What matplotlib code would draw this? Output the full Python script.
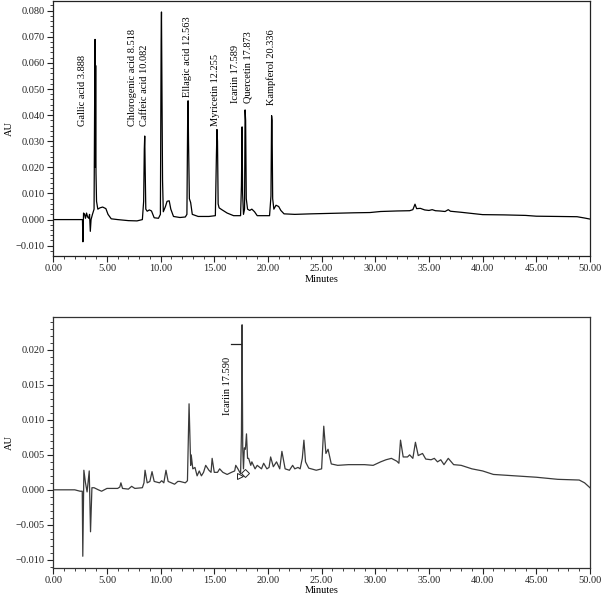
import matplotlib
matplotlib.use("Agg")
import matplotlib.pyplot as plt
from matplotlib.ticker import MultipleLocator, FuncFormatter

# ---------------- data ----------------
# Standard mixture chromatogram (top)
std_time = [0.0, 2.6, 2.72, 2.76, 2.82, 2.92, 3.0, 3.1, 3.2, 3.3, 3.38, 3.45, 3.52, 3.65, 3.8,
            3.86, 3.89, 3.92, 3.95, 3.98, 4.03, 4.15, 4.35, 4.6, 4.9, 5.1, 5.4, 6.0, 7.0, 7.8,
            8.3, 8.42, 8.48, 8.52, 8.56, 8.62, 8.75, 8.95, 9.15, 9.4, 9.8, 9.98, 10.05, 10.08,
            10.12, 10.18, 10.25, 10.45, 10.6, 10.8, 10.95, 11.2, 11.8, 12.3, 12.45, 12.53, 12.56,
            12.6, 12.68, 12.8, 12.95, 13.5, 14.5, 15.1, 15.2, 15.25, 15.3, 15.36, 15.45, 15.7,
            16.2, 16.8, 17.45, 17.53, 17.59, 17.64, 17.72, 17.82, 17.87, 17.92, 17.98, 18.1,
            18.3, 18.5, 18.75, 19.0, 20.15, 20.28, 20.34, 20.38, 20.44, 20.55, 20.75, 21.0,
            21.2, 21.5, 22.5, 24.0, 25.0, 26.0, 28.0, 29.5, 30.5, 32.0, 33.2, 33.5, 33.7,
            33.85, 34.2, 34.6, 35.0, 35.3, 35.6, 36.0, 36.5, 36.8, 37.0, 38.0, 40.0, 42.0,
            44.0, 45.0, 47.0, 48.8, 49.5, 50.0]
std_au = [0.0, 0.0, 0.0, -0.0085, 0.0025, 0.002, 0.0005, 0.0025, 0.001, 0.0005, 0.002, -0.0045,
          0.0, 0.002, 0.004, 0.05, 0.069, 0.02, 0.059, 0.018, 0.007, 0.004, 0.0045, 0.0048,
          0.0042, 0.002, 0.0003, 0.0, -0.0004, -0.0005, 0.0, 0.007, 0.027, 0.032, 0.02, 0.004,
          0.0032, 0.0037, 0.0033, 0.0007, 0.0005, 0.002, 0.069, 0.0795, 0.053, 0.015, 0.003,
          0.005, 0.007, 0.0072, 0.004, 0.0012, 0.0008, 0.001, 0.002, 0.044, 0.0455, 0.03,
          0.008, 0.0065, 0.002, 0.0012, 0.0012, 0.0015, 0.025, 0.0345, 0.03, 0.006, 0.0045,
          0.0038, 0.0025, 0.0015, 0.0015, 0.013, 0.0355, 0.01, 0.002, 0.004, 0.042, 0.038,
          0.008, 0.004, 0.0035, 0.004, 0.003, 0.0015, 0.0015, 0.009, 0.0398, 0.038, 0.008,
          0.004, 0.0055, 0.005, 0.0035, 0.0022, 0.002, 0.0022, 0.0023, 0.0024, 0.0026, 0.0027,
          0.0031, 0.0033, 0.0034, 0.0038, 0.0059, 0.0042, 0.0043, 0.0037, 0.0035, 0.0038,
          0.0034, 0.0033, 0.0031, 0.0038, 0.0032, 0.0028, 0.0019, 0.0018, 0.0016, 0.0013,
          0.0012, 0.0011, 0.0006, 0.0002]

std_labels = ["Gallic acid 3.888", "Chlorogenic acid 8.518", "Caffeic acid 10.082",
              "Ellagic acid 12.563", "Myricetin 12.255", "Icariin 17.589",
              "Quercetin 17.873", "Kampferol 20.336"]
std_label_x = [2.7, 7.4, 8.5, 12.5, 15.1, 17.0, 18.15, 20.3]
std_label_y = [0.0357, 0.0357, 0.0357, 0.0470, 0.0357, 0.0446, 0.0446, 0.0438]

# Sample chromatogram (bottom)
smp_time = [0.0, 2.0, 2.5, 2.7, 2.75, 2.85, 3.0, 3.15, 3.35, 3.47, 3.6, 3.8, 4.2, 4.5, 5.0,
            6.0, 6.2, 6.3, 6.45, 7.0, 7.3, 7.6, 8.3, 8.45, 8.55, 8.75, 9.0, 9.2, 9.4, 9.9,
            10.1, 10.3, 10.5, 10.7, 11.0, 11.3, 11.6, 11.8, 12.3, 12.5, 12.65, 12.8, 12.85,
            13.0, 13.2, 13.4, 13.6, 13.8, 14.0, 14.2, 14.5, 14.7, 14.8, 15.0, 15.3, 15.5,
            15.8, 16.2, 16.6, 16.9, 17.0, 17.2, 17.45, 17.53, 17.59, 17.65, 17.72, 17.8,
            17.9, 18.0, 18.1, 18.2, 18.4, 18.5, 18.8, 19.0, 19.4, 19.6, 19.9, 20.1, 20.25,
            20.5, 20.8, 21.1, 21.3, 21.6, 22.0, 22.3, 22.5, 22.8, 23.0, 23.2, 23.35, 23.5,
            23.8, 24.5, 25.0, 25.2, 25.4, 25.6, 25.9, 26.5, 27.5, 29.0, 29.8, 30.5, 31.0,
            31.5, 32.0, 32.2, 32.35, 32.6, 33.0, 33.2, 33.5, 33.74, 34.0, 34.4, 34.7, 35.2,
            35.5, 35.8, 36.1, 36.4, 36.8, 37.3, 38.0, 39.0, 40.0, 41.0, 43.0, 45.0, 47.0,
            49.0, 49.5, 50.0]
smp_au = [0.0, 0.0, -0.0002, -0.0002, -0.0095, 0.0028, 0.0010, -0.0003, 0.0027, -0.006,
          0.0003, 0.0003, 0.0, -0.0002, 0.0002, 0.0002, 0.0004, 0.001, 0.0002, 0.0001, 0.0005,
          0.0002, 0.0003, 0.0010, 0.0028, 0.001, 0.0012, 0.0026, 0.0012, 0.001, 0.0013, 0.001,
          0.0028, 0.0012, 0.001, 0.0008, 0.0012, 0.0012, 0.001, 0.0013, 0.0123, 0.0035, 0.005,
          0.003, 0.0032, 0.002, 0.0027, 0.002, 0.0025, 0.0035, 0.0028, 0.0025, 0.0045, 0.0025,
          0.0025, 0.003, 0.0025, 0.0022, 0.0025, 0.0027, 0.0035, 0.003, 0.0023, 0.008, 0.0236,
          0.006, 0.003, 0.006, 0.0058, 0.008, 0.0045, 0.0045, 0.0035, 0.004, 0.003, 0.0035,
          0.003, 0.0038, 0.003, 0.0032, 0.0047, 0.0033, 0.004, 0.003, 0.0055, 0.003, 0.0028,
          0.0035, 0.003, 0.0032, 0.003, 0.0045, 0.0071, 0.004, 0.0031, 0.0028, 0.003, 0.0091,
          0.0052, 0.0058, 0.0037, 0.0035, 0.0036, 0.0036, 0.0035, 0.004, 0.0043, 0.0045,
          0.0041, 0.0038, 0.0071, 0.0047, 0.0047, 0.005, 0.0045, 0.0068, 0.0049, 0.0052,
          0.0044, 0.0043, 0.0045, 0.004, 0.0043, 0.0036, 0.0045, 0.0036, 0.0035, 0.003,
          0.0027, 0.0022, 0.002, 0.0018, 0.0015, 0.0014, 0.001, 0.0003]

smp_label = "Icariin 17.590"
smp_label_x = 16.25
smp_label_y = 0.0107
smp_start_marker = (17.38, 0.0020)
smp_end_marker = (17.85, 0.0024)
smp_bar = (16.6, 17.45, 0.0209)

# ---------------- style ----------------
plt.rcParams['font.family'] = ['Liberation Serif', 'DejaVu Serif']
plt.rcParams['font.size'] = 7.5
plt.rcParams['axes.unicode_minus'] = True

fig = plt.figure(figsize=(6.02, 6.00), dpi=100)
ax1 = fig.add_axes([0.0885, 0.5733, 0.8915, 0.4250])
ax2 = fig.add_axes([0.0885, 0.0538, 0.8915, 0.4184])

fmt_y = FuncFormatter(lambda v, p: ("%.3f" % v).replace("-", "\u2212"))
fmt_x = FuncFormatter(lambda v, p: "%.2f" % v)

for ax, spine_col in ((ax1, '#222222'), (ax2, '#333333')):
    ax.set_xlim(0, 50)
    ax.xaxis.set_major_locator(MultipleLocator(5))
    ax.xaxis.set_minor_locator(MultipleLocator(1))
    ax.xaxis.set_major_formatter(fmt_x)
    ax.yaxis.set_major_formatter(fmt_y)
    ax.tick_params(which='major', direction='out', length=4, width=0.8, labelsize=7.5,
                   pad=2, colors='#222222')
    ax.tick_params(which='minor', direction='out', length=2, width=0.6, colors='#222222')
    for s in ax.spines.values():
        s.set_linewidth(0.9)
        s.set_color(spine_col)
    ax.set_xlabel("Minutes", fontsize=7.5, labelpad=1)
    ax.set_ylabel("AU", fontsize=7.5)
    ax.yaxis.set_label_coords(-0.073, 0.5)

# Top panel
ax1.plot(std_time, std_au, color='black', lw=0.9)
ax1.set_ylim(-0.01395, 0.0837)
ax1.yaxis.set_major_locator(MultipleLocator(0.01))
ax1.yaxis.set_minor_locator(MultipleLocator(0.002))
for lab, x, y in zip(std_labels, std_label_x, std_label_y):
    ax1.text(x, y, lab, rotation=90, ha='center', va='bottom', fontsize=7.5)

# Bottom panel
ax2.plot(smp_time, smp_au, color='#3a3a3a', lw=0.9)
ax2.set_ylim(-0.01114, 0.02476)
ax2.yaxis.set_major_locator(MultipleLocator(0.005))
ax2.yaxis.set_minor_locator(MultipleLocator(0.001))
ax2.text(smp_label_x, smp_label_y, smp_label, rotation=90, ha='center', va='bottom', fontsize=7.5)
ax2.plot([smp_bar[0], smp_bar[1]], [smp_bar[2], smp_bar[2]], color='#222222', lw=0.9)
ax2.plot([smp_start_marker[0]], [smp_start_marker[1]], marker='>', ms=5, mfc='white',
         mec='#222222', mew=0.7, ls='none')
ax2.plot([smp_end_marker[0]], [smp_end_marker[1]], marker='D', ms=4, mfc='white',
         mec='#222222', mew=0.7, ls='none')

fig.savefig("out.png", dpi=100)
